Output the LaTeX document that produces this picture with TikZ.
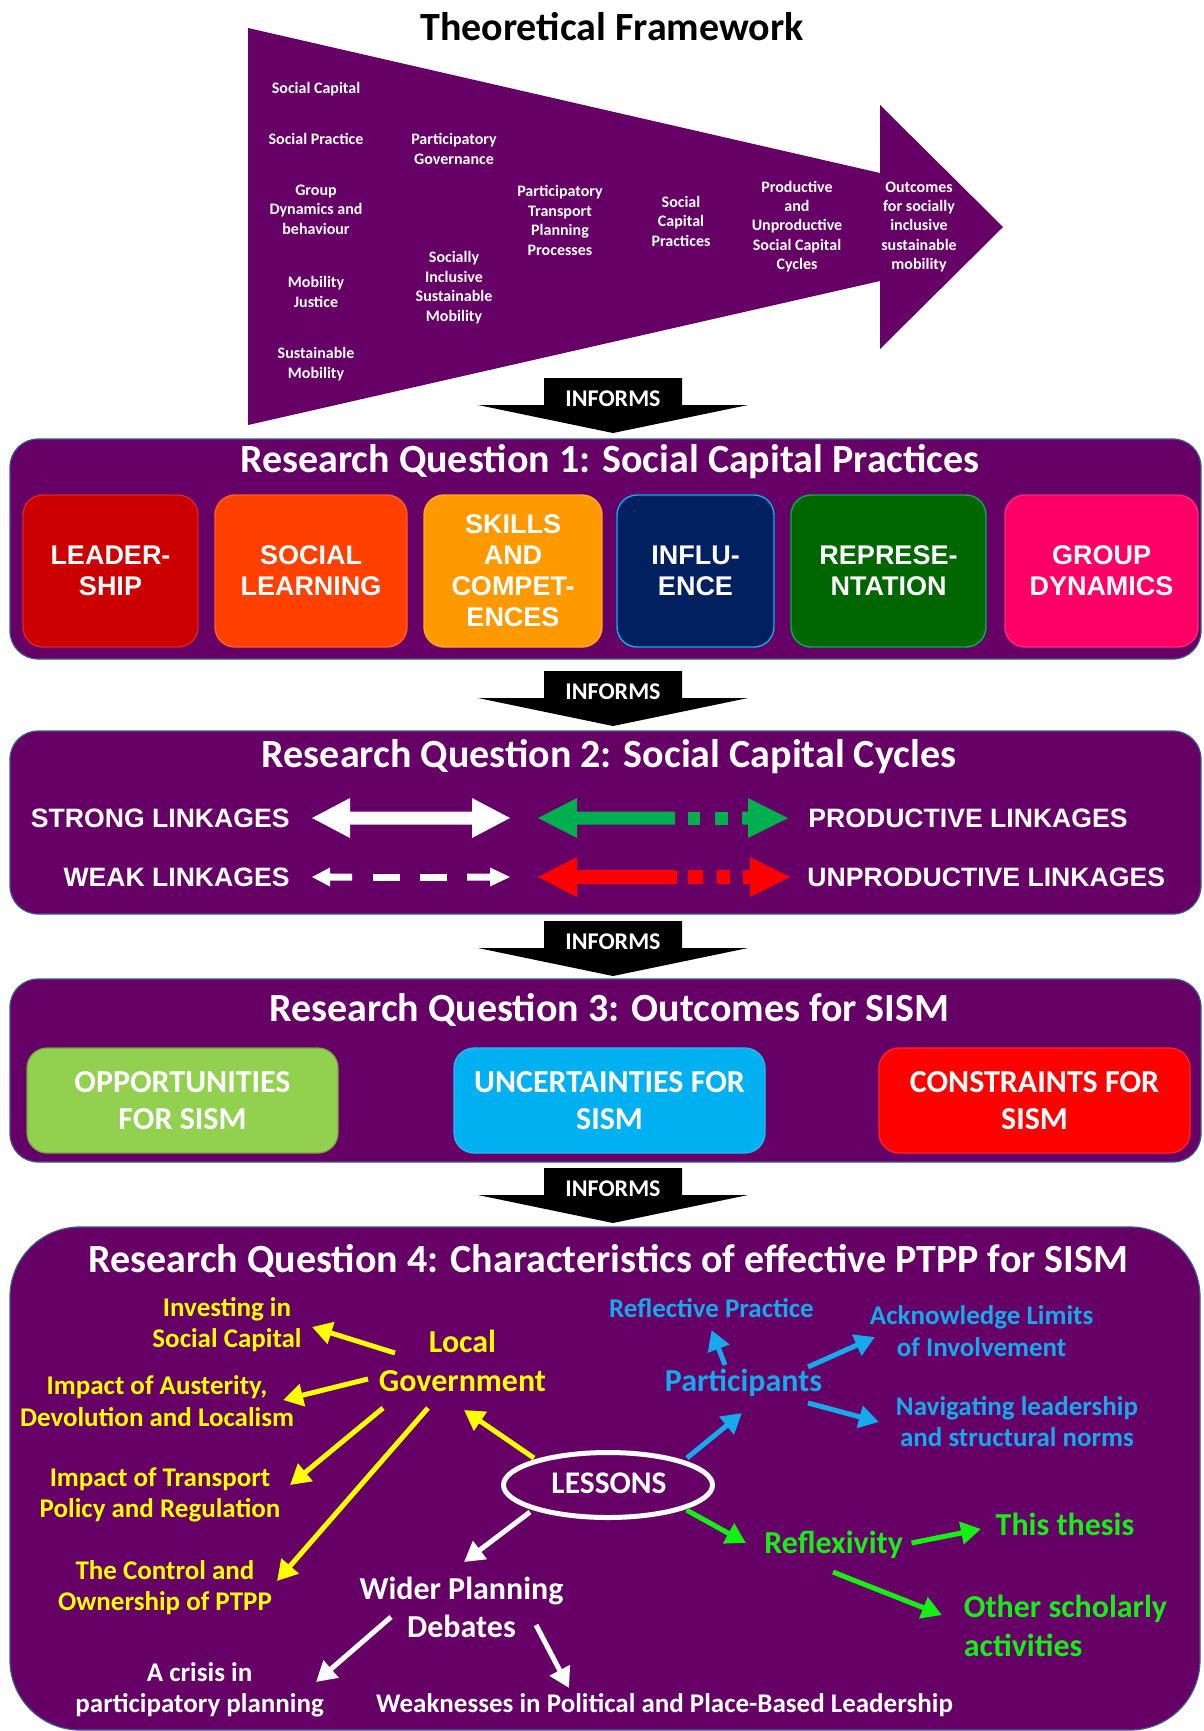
\documentclass[tikz,border=0pt]{standalone}
\usepackage{fontspec}
\setmainfont{Carlito}
\newfontfamily\arialfont{Liberation Sans}
\usetikzlibrary{arrows.meta}

\definecolor{plum}{RGB}{102,0,102}
\definecolor{panelline}{RGB}{60,90,140}
\definecolor{leadred}{RGB}{204,0,0}
\definecolor{learnorange}{RGB}{255,64,0}
\definecolor{skillorange}{RGB}{255,153,0}
\definecolor{navyblue}{RGB}{0,32,96}
\definecolor{skyblue}{RGB}{0,176,240}
\definecolor{darkgreen}{RGB}{0,102,0}
\definecolor{hotpink}{RGB}{255,0,102}
\definecolor{leafgreen}{RGB}{146,208,80}
\definecolor{midgreen}{RGB}{0,176,80}
\definecolor{brightred}{RGB}{255,0,0}
\definecolor{limegreen}{RGB}{20,240,20}
\definecolor{brightyellow}{RGB}{255,255,0}
\definecolor{textblue}{RGB}{20,170,235}

\begin{document}
\begin{tikzpicture}[x=0.5pt,y=-0.5pt,
  panel/.style={fill=plum,draw=panelline,line width=0.6pt,rounded corners=14pt},
  fwtext/.style={text=white,font=\bfseries\fontsize{8}{9.7}\selectfont,align=center,anchor=base,inner sep=0pt},
  informtext/.style={text=white,font=\bfseries\fontsize{12}{14}\selectfont,anchor=base,inner sep=0pt},
  rqtitle/.style={text=white,font=\bfseries\fontsize{20}{24}\selectfont,anchor=base,inner sep=0pt},
  practice/.style={rounded corners=10pt,minimum height=76pt,line width=0.7pt,text=white,align=center,
    font=\arialfont\bfseries\fontsize{13.5}{15.5}\selectfont,inner sep=0pt},
  outcome/.style={rounded corners=10pt,minimum width=155.5pt,minimum height=52.5pt,line width=0.6pt,text=white,align=center,
    font=\bfseries\fontsize{16}{18.3}\selectfont,inner sep=0pt},
  linklabel/.style={text=white,font=\arialfont\bfseries\fontsize{13.3}{15}\selectfont,inner sep=0pt},
  smalllbl/.style={anchor=base,align=center,inner sep=0pt,font=\bfseries\fontsize{13.5}{15.75}\selectfont},
  biglbl/.style={anchor=base,align=center,inner sep=0pt,font=\bfseries\fontsize{16}{19.5}\selectfont},
  lessarrow/.style={line width=2.5pt,-{Triangle[length=10pt,width=11pt]}}
]
\useasboundingbox (0,0) rectangle (1204,1731);

% ---------- theoretical framework arrow ----------
% (multi-line labels are placed by the baseline of their last line)
\node[anchor=base,font=\bfseries\fontsize{20}{24}\selectfont,inner sep=0pt] (fwtitle) at (612,40) {Theoretical Framework};
\fill[plum] (248,28) -- (880,173) -- (880,105) -- (1003,227) -- (880,349) -- (880,281) -- (248,425) -- cycle;

\node[fwtext] (socap) at (316,93) {Social Capital};
\node[fwtext] (socpr) at (316,144) {Social Practice};
\node[fwtext] (grpdyn) at (316,234) {Group\\Dynamics and\\behaviour};
\node[fwtext] (mobjus) at (316,307) {Mobility\\Justice};
\node[fwtext] (susmob) at (316,378) {Sustainable\\Mobility};
\node[fwtext] (partgov) at (454,164) {Participatory\\Governance};
\node[fwtext] (sism) at (454,321) {Socially\\Inclusive\\Sustainable\\Mobility};
\node[fwtext] (ptpp) at (560,255) {Participatory\\Transport\\Planning\\Processes};
\node[fwtext] (scprac) at (681,246) {Social\\Capital\\Practices};
\node[fwtext] (cycles) at (797,269.6) {Productive\\and\\Unproductive\\Social Capital\\Cycles};
\node[fwtext] (outcomes) at (919,269.6) {Outcomes\\for socially\\inclusive\\sustainable\\mobility};

% ---------- INFORMS block arrows ----------
\foreach \t/\n in {378/informsA,671/informsB,921/informsC,1168/informsD}{
  \fill[black] (544,\t) -- (682,\t) -- (682,\t+27) -- (748,\t+27) -- (613,\t+55)
     -- (478,\t+27) -- (544,\t+27) -- cycle;
  \node[informtext] (\n) at (613,\t+28) {INFORMS};
}

% ---------- research question 1 ----------
\draw[panel] (10,439) rectangle (1201,659);
\node[rqtitle] (rqone) at (610,472) {Research Question 1: Social Capital Practices};
\node[practice,fill=leadred,draw=leadred!85!white,minimum width=87.5pt] (leader) at (110.5,571) {LEADER-\\SHIP};
\node[practice,fill=learnorange,draw=learnorange!85!white,minimum width=96pt] (learning) at (311,571) {SOCIAL\\LEARNING};
\node[practice,fill=skillorange,draw=skillorange!85!white,minimum width=89pt] (skills) at (513,571) {SKILLS\\AND\\COMPET-\\ENCES};
\node[practice,fill=navyblue,draw=skyblue,minimum width=78.5pt] (influence) at (695.5,571) {INFLU-\\ENCE};
\node[practice,fill=darkgreen,draw=midgreen,minimum width=97.5pt] (represent) at (888.5,571) {REPRESE-\\NTATION};
\node[practice,fill=hotpink,draw=hotpink!85!white,minimum width=96.5pt] (groupdyn) at (1101.5,571) {GROUP\\DYNAMICS};

% ---------- research question 2 ----------
\draw[panel] (10,731) rectangle (1201,914);
\node[rqtitle] (rqtwo) at (609,767) {Research Question 2: Social Capital Cycles};
\node[linklabel,anchor=east] (strong) at (290,818) {STRONG LINKAGES};
\node[linklabel,anchor=east] (weak) at (290,877) {WEAK LINKAGES};
\node[linklabel,anchor=west] (productive) at (808,818) {PRODUCTIVE LINKAGES};
\node[linklabel,anchor=west] (unproductive) at (807,877) {UNPRODUCTIVE LINKAGES};

% strong: solid white double arrow
\fill[white] (312,818) -- (350,798) -- (350,811.5) -- (472,811.5) -- (472,798) -- (510,818)
  -- (472,838) -- (472,824.5) -- (350,824.5) -- (350,838) -- cycle;
% weak: dashed white double arrow
\fill[white] (312,877) -- (330,867.5) -- (330,873.5) -- (352,873.5) -- (352,880.5) -- (330,880.5) -- (330,886.5) -- cycle;
\fill[white] (373,873.5) rectangle (400,880.5);
\fill[white] (420,873.5) rectangle (447,880.5);
\fill[white] (510,877) -- (490,867.5) -- (490,873.5) -- (467,873.5) -- (467,880.5) -- (490,880.5) -- (490,886.5) -- cycle;
% productive: green arrow with dotted tail
\fill[midgreen] (538,818) -- (577,798) -- (577,811.5) -- (675,811.5) -- (675,824.5) -- (577,824.5) -- (577,838) -- cycle;
\fill[midgreen] (688,811.5) rectangle (700,824.5);
\fill[midgreen] (715,811.5) rectangle (728,824.5);
\fill[midgreen] (788,818) -- (748,798) -- (748,811.5) -- (742,811.5) -- (742,824.5) -- (748,824.5) -- (748,838) -- cycle;
% unproductive: red arrow with dotted tail
\fill[brightred] (538,877) -- (577,857) -- (577,870) -- (677,870) -- (677,884) -- (577,884) -- (577,897) -- cycle;
\fill[brightred] (688,870) rectangle (703,884);
\fill[brightred] (717,870) rectangle (730,884);
\fill[brightred] (790,877) -- (750,857) -- (750,870) -- (743,870) -- (743,884) -- (750,884) -- (750,897) -- cycle;

% ---------- research question 3 ----------
\draw[panel] (10,979) rectangle (1201,1162);
\node[rqtitle] (rqthree) at (609.5,1021) {Research Question 3: Outcomes for SISM};
\node[outcome,fill=leafgreen,draw=leafgreen!80!black] (opport) at (182.5,1100.5) {OPPORTUNITIES\\FOR SISM};
\node[outcome,fill=skyblue,draw=skyblue!85!white] (uncert) at (609.5,1100.5) {UNCERTAINTIES FOR\\SISM};
\node[outcome,fill=brightred,draw=brightred!85!white] (constr) at (1034.5,1100.5) {CONSTRAINTS FOR\\SISM};

% ---------- research question 4 ----------
\draw[panel,rounded corners=35pt] (10,1227) rectangle (1200,1730);
\node[rqtitle] (rqfour) at (608.5,1272) {Research Question 4: Characteristics of effective PTPP for SISM};

\draw[white,line width=2.5pt] (608,1485) ellipse [x radius=104.5, y radius=32.5];
\node[biglbl,text=white,font=\bfseries\fontsize{15.75}{19}\selectfont] (lessons) at (609,1493) {LESSONS};

% local government branch
\node[biglbl,text=brightyellow] (localgov) at (462.5,1391.7) {Local\\Government};
\node[smalllbl,text=brightyellow] (invest) at (227,1347.7) {Investing in\\Social Capital};
\node[smalllbl,text=brightyellow] (auster) at (157,1426) {Impact of Austerity,\\Devolution and Localism};
\node[smalllbl,text=brightyellow] (transp) at (160,1517.7) {Impact of Transport\\Policy and Regulation};
\node[smalllbl,text=brightyellow] (control) at (165,1610.7) {The Control and\\Ownership of PTPP};

% participants branch
\node[biglbl,text=textblue] (partic) at (743.5,1391.7) {Participants};
\node[smalllbl,text=textblue] (reflprac) at (711.5,1317.7) {Reflective Practice};
\node[smalllbl,text=textblue] (acklim) at (981.6,1356) {Acknowledge Limits\\of Involvement};
\node[smalllbl,text=textblue] (navlead) at (1017,1446.7) {Navigating leadership\\and structural norms};

% reflexivity branch
\node[biglbl,text=limegreen] (reflex) at (833.7,1553) {Reflexivity};
\node[biglbl,text=limegreen] (thesis) at (1065,1535) {This thesis};
\node[biglbl,text=limegreen,anchor=base west,align=left] (scholar) at (963.5,1656.7) {Other scholarly\\activities};

% wider planning branch
\node[biglbl,text=white,font=\bfseries\fontsize{16}{19}\selectfont] (wider) at (461.5,1637) {Wider Planning\\Debates};
\node[smalllbl,text=white] (crisis) at (199.6,1712.7) {A crisis in\\participatory planning};
\node[smalllbl,text=white] (weakness) at (664.5,1712.7) {Weaknesses in Political and Place-Based Leadership};

% connector end points
\coordinate (lgInvS) at (395,1353);   \coordinate (lgInvE) at (312,1327);
\coordinate (lgAusS) at (368,1379);   \coordinate (lgAusE) at (283,1400);
\coordinate (lgTraS) at (383,1408);   \coordinate (lgTraE) at (290,1485);
\coordinate (lgConS) at (428,1408);   \coordinate (lgConE) at (277,1581);
\coordinate (lsGovS) at (534,1458);   \coordinate (lsGovE) at (464,1410);
\coordinate (lsParS) at (687,1458);   \coordinate (lsParE) at (742,1413);
\coordinate (paRefS) at (725,1365);   \coordinate (paRefE) at (711.5,1330);
\coordinate (paAckS) at (808,1367);   \coordinate (paAckE) at (875,1337);
\coordinate (paNavS) at (808,1403);   \coordinate (paNavE) at (879,1422);
\coordinate (lsRfxS) at (686.5,1510); \coordinate (lsRfxE) at (746,1543);
\coordinate (rxThS) at (911.5,1543);  \coordinate (rxThE) at (981,1529);
\coordinate (rxOtS) at (833,1572);    \coordinate (rxOtE) at (942,1615);
\coordinate (lsWidS) at (530,1512);   \coordinate (lsWidE) at (464,1562);
\coordinate (wdCriS) at (391,1617);   \coordinate (wdCriE) at (316,1682);
\coordinate (wdWeaS) at (536,1625);   \coordinate (wdWeaE) at (569,1688);

\draw[lessarrow,brightyellow] (lgInvS) -- (lgInvE);
\draw[lessarrow,brightyellow] (lgAusS) -- (lgAusE);
\draw[lessarrow,brightyellow] (lgTraS) -- (lgTraE);
\draw[lessarrow,brightyellow] (lgConS) -- (lgConE);
\draw[lessarrow,brightyellow] (lsGovS) -- (lsGovE);
\draw[lessarrow,textblue] (lsParS) -- (lsParE);
\draw[lessarrow,textblue] (paRefS) -- (paRefE);
\draw[lessarrow,textblue] (paAckS) -- (paAckE);
\draw[lessarrow,textblue] (paNavS) -- (paNavE);
\draw[lessarrow,limegreen] (lsRfxS) -- (lsRfxE);
\draw[lessarrow,limegreen] (rxThS) -- (rxThE);
\draw[lessarrow,limegreen] (rxOtS) -- (rxOtE);
\draw[lessarrow,white] (lsWidS) -- (lsWidE);
\draw[lessarrow,white] (wdCriS) -- (wdCriE);
\draw[lessarrow,white] (wdWeaS) -- (wdWeaE);
\end{tikzpicture}
\end{document}
